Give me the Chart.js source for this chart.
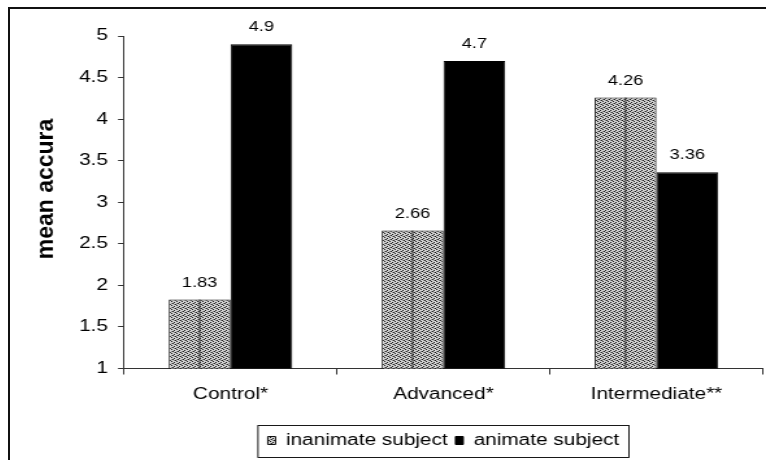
<!DOCTYPE html>
<html>
<head>
<meta charset="utf-8">
<script src="https://cdn.jsdelivr.net/npm/chart.js@4.4.1/dist/chart.umd.min.js"></script>
<style>
  html, body { margin: 0; padding: 0; background: #fff; overflow: hidden; }
  #frame {
    position: absolute; left: 8px; top: 7px;
    width: 756px; height: 451px;
    border-left: 2px solid #111; border-top: 2px solid #111;
  }
  /* the original picture was stretched sideways, so draw narrow and widen */
  #wide { width: 582px; height: 451px; transform: scaleX(1.299); transform-origin: 0 0; }
  #c { display: block; }
</style>
</head>
<body>
<div id="frame"><div id="wide"><canvas id="c" width="582" height="451"></canvas></div></div>
<script>
const categories = ['Control*', 'Advanced*', 'Intermediate**']
const inanimate = [1.83, 2.66, 4.26]
const animate = [4.9, 4.7, 3.36]
const seriesNames = ['inanimate subject', 'animate subject']
const yTicks = ['1', '1.5', '2', '2.5', '3', '3.5', '4', '4.5', '5']
const yTitle = 'mean accura'

const FONT = "'Liberation Sans', Arial, sans-serif"
const STRETCH = 1.299

// speckled grey fill like the old spreadsheet pattern
function makePattern() {
  const p = document.createElement('canvas')
  p.width = 4; p.height = 4
  const g = p.getContext('2d')
  g.fillStyle = '#d2d2d2'
  g.fillRect(0, 0, 4, 4)
  g.fillStyle = '#1c1c1c'
  ;[[0, 0], [2, 1], [1, 2], [3, 3]].forEach(([x, y]) => g.fillRect(x, y, 1, 1))
  g.fillStyle = '#858585'
  ;[[2, 3], [0, 2]].forEach(([x, y]) => g.fillRect(x, y, 1, 1))
  return g.createPattern(p, 'repeat')
}
const grey = makePattern()

const extras = {
  id: 'extras',
  afterDatasetsDraw(chart) {
    const ctx = chart.ctx
    const y = chart.scales.y
    const base = y.getPixelForValue(y.min)
    ctx.save()
    // split line in the middle of the patterned bars
    ctx.strokeStyle = '#111'
    ctx.lineWidth = 0.8
    chart.getDatasetMeta(0).data.forEach(bar => {
      ctx.beginPath()
      ctx.moveTo(bar.x, bar.y)
      ctx.lineTo(bar.x, base)
      ctx.stroke()
    })
    // value labels
    ctx.fillStyle = '#000'
    ctx.font = '14px ' + FONT
    ctx.textAlign = 'center'
    ctx.textBaseline = 'alphabetic'
    chart.data.datasets.forEach((ds, i) => {
      chart.getDatasetMeta(i).data.forEach((bar, j) => {
        ctx.fillText(String(ds.data[j]), bar.x, bar.y - 13)
      })
    })
    ctx.restore()
  },
  afterDraw(chart) {
    const ctx = chart.ctx
    ctx.save()
    // y axis title, kept upright in proportion (not widened)
    ctx.fillStyle = '#000'
    ctx.font = 'bold 23px ' + FONT
    ctx.textAlign = 'center'
    ctx.textBaseline = 'middle'
    ctx.translate(28, 180)
    ctx.scale(1 / STRETCH, 1)
    ctx.rotate(-Math.PI / 2)
    ctx.fillText(yTitle, 0, 0)
    ctx.restore()
    // box round the legend
    const boxes = chart.legend.legendHitBoxes
    if (boxes && boxes.length) {
      const l = Math.min(...boxes.map(b => b.left))
      const r = Math.max(...boxes.map(b => b.left + b.width))
      const t = Math.min(...boxes.map(b => b.top))
      const b = Math.max(...boxes.map(b => b.top + b.height))
      ctx.save()
      ctx.strokeStyle = '#000'
      ctx.lineWidth = 0.9
      ctx.strokeRect(l - 7.5, Math.round(t - 8) + 0.5, r - l + 15, Math.round(b - t + 16))
      ctx.restore()
    }
  }
}

new Chart(document.getElementById('c'), {
  type: 'bar',
  data: {
    labels: categories,
    datasets: [
      { label: seriesNames[0], data: inanimate, backgroundColor: grey, borderColor: '#111', borderWidth: 1 },
      { label: seriesNames[1], data: animate, backgroundColor: '#000', borderColor: '#000', borderWidth: 1 }
    ]
  },
  options: {
    responsive: false,
    animation: false,
    devicePixelRatio: 1,
    events: [],
    layout: { padding: { left: 10, right: 2.4, top: 27, bottom: 1.5 } },
    datasets: { bar: { categoryPercentage: 0.58, barPercentage: 1 } },
    plugins: {
      tooltip: { enabled: false },
      legend: {
        position: 'bottom',
        fullSize: false,
        labels: { color: '#000', font: { size: 16, family: FONT }, boxWidth: 6, boxHeight: 8, padding: 6 }
      }
    },
    scales: {
      x: {
        afterFit: s => { s.height = 58 },
        grid: { offset: true, drawOnChartArea: false, tickLength: 6, color: '#333' },
        border: { color: '#333' },
        ticks: { color: '#000', font: { size: 16, family: FONT }, padding: 10 }
      },
      y: {
        min: 1, max: 5,
        afterFit: s => { s.width = 77.8 },
        afterBuildTicks: s => { s.ticks = yTicks.map(v => ({ value: Number(v) })) },
        grid: { drawOnChartArea: false, tickLength: 4.6, color: '#333' },
        border: { color: '#333' },
        ticks: { color: '#000', font: { size: 16, family: FONT }, padding: 7.8, callback: (v, i) => yTicks[i] }
      }
    }
  },
  plugins: [extras]
})
</script>
</body>
</html>
